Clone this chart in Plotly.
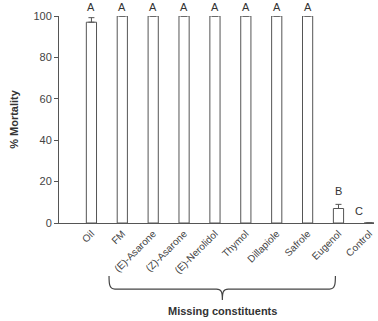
import plotly.graph_objects as go

categories = ["Oil", "FM", "(E)-Asarone", "(Z)-Asarone", "(E)-Nerolidol", "Thymol",
              "Dillapiole", "Safrole", "Eugenol", "Control"]
mortality = [97, 100, 100, 100, 100, 100, 100, 100, 7, 0]
errors = [2.2, 0, 0, 0, 0, 0, 0, 0, 2, 0]
letters = ["A", "A", "A", "A", "A", "A", "A", "A", "B", "C"]
y_ticks = [0, 20, 40, 60, 80, 100]

idx = list(range(len(categories)))
FONT = "Liberation Sans, Arial, sans-serif"

fig = go.Figure()
fig.add_trace(go.Bar(
    x=idx, y=mortality, width=0.33,
    marker=dict(color="white", line=dict(color="#555555", width=1)),
    error_y=dict(type="data", array=errors, arrayminus=[0] * len(errors), visible=True,
                 color="#555555", thickness=1, width=3),
    showlegend=False, hoverinfo="skip",
))

# significance letters
for i, (v, e, L) in enumerate(zip(mortality, errors, letters)):
    if L == "C":
        xp, yp = i - 0.33, 0.058
    elif L == "B":
        xp, yp = i, 0.155
    else:
        xp, yp = i, 1.045
    fig.add_annotation(x=xp, y=yp, text=L, showarrow=False, xref="x", yref="paper",
                       yanchor="middle", xanchor="center",
                       font=dict(family=FONT, size=11, color="#333333"))

# brace
x0, x1, xm = 0.57, 7.9, 4.24
d = 0.19
yt, yh, yb = -0.256, -0.319, -0.372
path = (f"M {x0},{yt} C {x0},{yh+0.03} {x0},{yh} {x0+d},{yh} "
        f"L {xm-d},{yh} C {xm-0.03},{yh} {xm},{yh-0.015} {xm},{yb} "
        f"M {xm},{yb} C {xm},{yh-0.015} {xm+0.03},{yh} {xm+d},{yh} "
        f"L {x1-d},{yh} C {x1},{yh} {x1},{yh+0.03} {x1},{yt}")
fig.add_shape(type="path", path=path, xref="x", yref="paper",
              line=dict(color="#444444", width=1.2))
fig.add_annotation(x=xm, y=-0.425, xref="x", yref="paper", text="<b>Missing constituents</b>",
                   showarrow=False, yanchor="middle",
                   font=dict(family=FONT, size=11, color="#333333"))

fig.update_layout(
    width=378, height=321,
    margin=dict(l=59, r=4, t=16, b=98),
    plot_bgcolor="white", paper_bgcolor="white",
    font=dict(family=FONT, color="#333333"),
    xaxis=dict(
        tickmode="array", tickvals=idx, ticktext=categories, tickangle=-45,
        range=[-1.05, 9.15], showline=True, linecolor="#555555", linewidth=1,
        ticks="", showgrid=False, zeroline=False, automargin=False,
        tickfont=dict(family=FONT, size=10, color="#444444"),
    ),
    yaxis=dict(
        range=[0, 100], tickvals=y_ticks, showline=True, linecolor="#555555", linewidth=1,
        ticks="outside", ticklen=4, tickcolor="#555555", showgrid=False, zeroline=False,
        automargin=False,
        tickfont=dict(family=FONT, size=11, color="#444444"),
        title=dict(text="<b>% Mortality</b>", font=dict(family=FONT, size=11, color="#333333"),
                   standoff=12),
    ),
)

fig.write_html("out.html", config={"displayModeBar": False},
               post_script="document.body.style.margin='0';document.body.style.overflow='hidden';")
